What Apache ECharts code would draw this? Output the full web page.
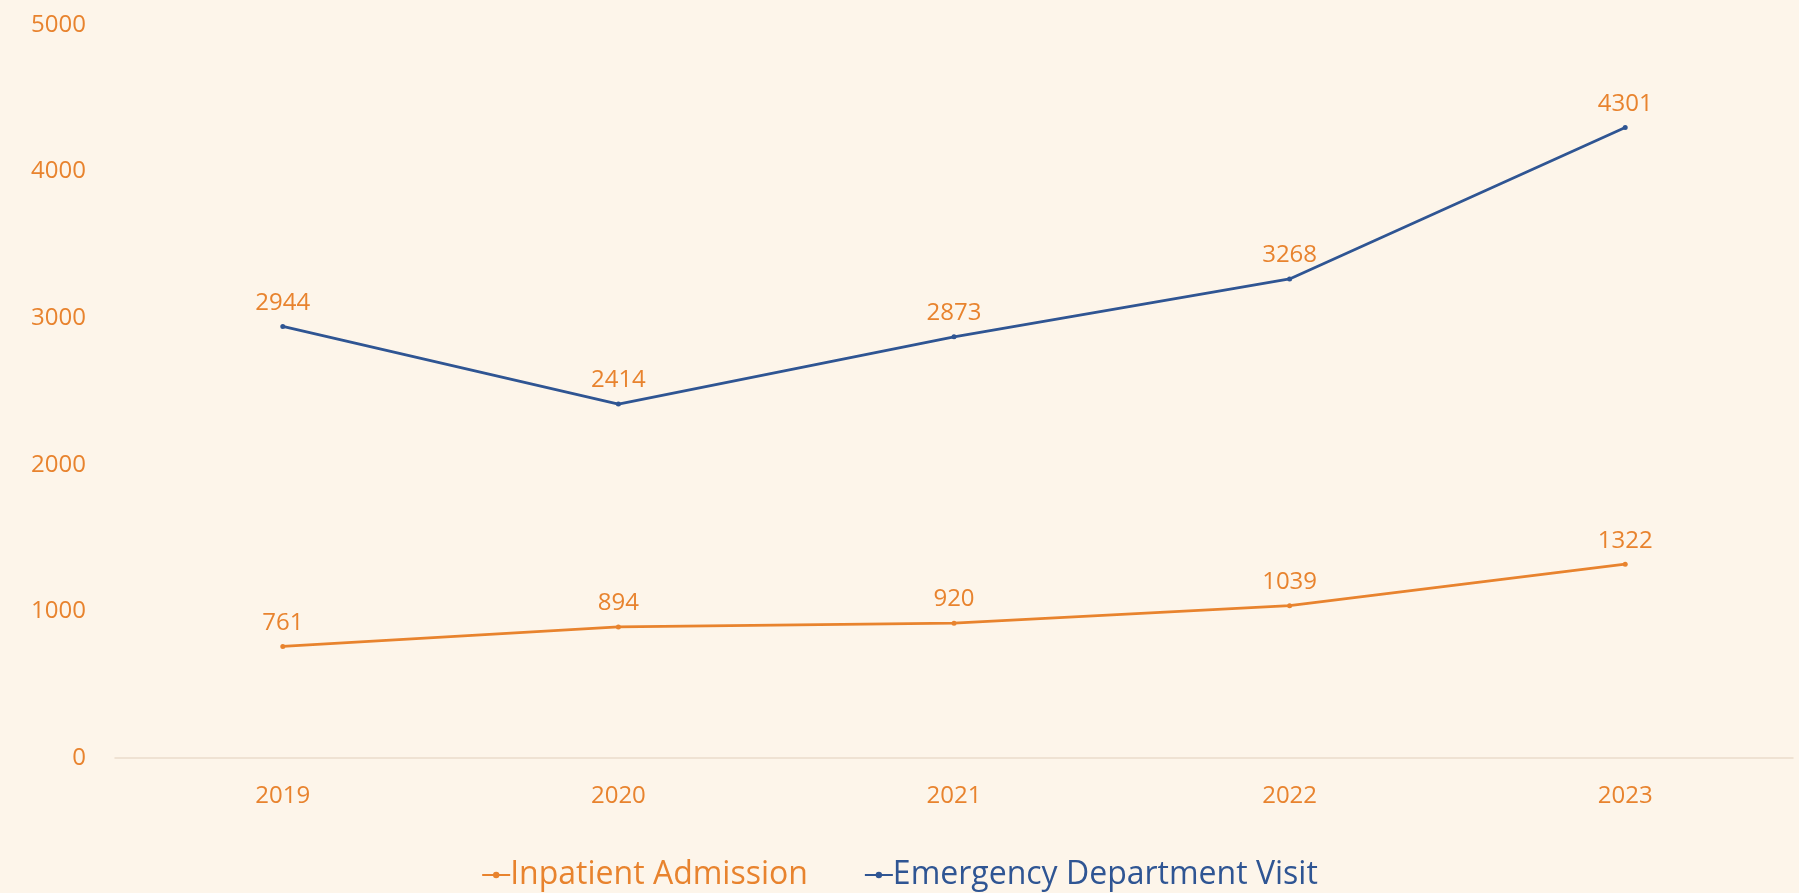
<!DOCTYPE html>
<html><head><meta charset="utf-8">
<script src="https://cdn.jsdelivr.net/npm/echarts@6/dist/echarts.min.js"></script>
<style>html,body{margin:0;padding:0;background:#FDF5EA;}#c{width:1799px;height:893px;}</style>
</head><body><div id="c"></div>
<script>
const categories = ['2019','2020','2021','2022','2023'];
const inpatient = [761, 894, 920, 1039, 1322];
const emergency = [2944, 2414, 2873, 3268, 4301];
const yTicks = {min:0, max:5000, interval:1000};
const orange = '#E8832E', blue = '#2F5593', font = '"Open Sans", "Noto Sans", sans-serif';
const chart = echarts.init(document.getElementById('c'));
chart.setOption({
  backgroundColor:'#FDF5EA',
  textStyle:{fontFamily:font},
  grid:{left:115,right:6,top:25,bottom:135,containLabel:false},
  legend:{top:854,left:'center',itemGap:56,itemWidth:28,itemHeight:8,
    textStyle:{fontSize:32,fontFamily:font,padding:[0,0,0,-5]},
    data:[{name:'Inpatient Admission',textStyle:{color:orange}},{name:'Emergency Department Visit',textStyle:{color:blue}}]},
  xAxis:{type:'category',data:categories,boundaryGap:true,
    axisLine:{lineStyle:{color:'#EADCCB',width:1.5}},axisTick:{show:false},
    axisLabel:{color:orange,fontSize:24,margin:26}},
  yAxis:{type:'value',min:yTicks.min,max:yTicks.max,interval:yTicks.interval,
    splitLine:{show:false},axisLine:{show:false},axisTick:{show:false},
    axisLabel:{color:orange,fontSize:24,margin:29,formatter:v=>String(v)}},
  series:[
    {name:'Inpatient Admission',type:'line',data:inpatient,color:orange,symbol:'circle',symbolSize:5,
     lineStyle:{width:2.8,color:orange},itemStyle:{color:orange},
     label:{show:true,position:'top',distance:9,color:orange,fontSize:24}},
    {name:'Emergency Department Visit',type:'line',data:emergency,color:blue,symbol:'circle',symbolSize:5,
     lineStyle:{width:2.8,color:blue},itemStyle:{color:blue},
     label:{show:true,position:'top',distance:9,color:orange,fontSize:24}}
  ]
});
</script></body></html>
